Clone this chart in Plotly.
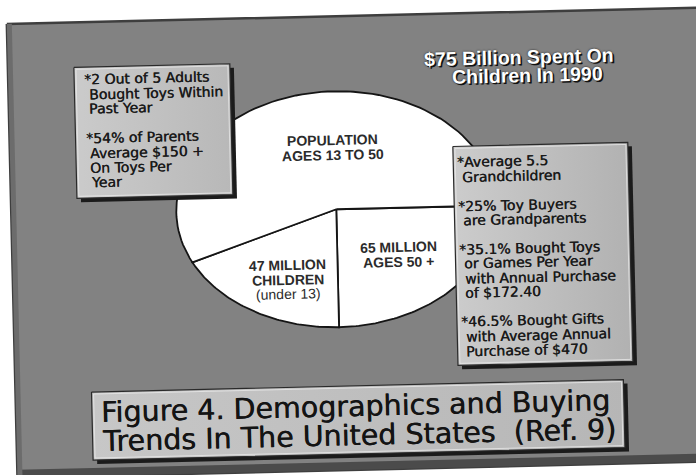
import numpy as np
import plotly.graph_objects as go

# ---------------------------------------------------------------- data
# US population segments (millions) shown as pie slices, clockwise from 3 o'clock
slice_names = ["AGES 50 +", "CHILDREN (under 13)", "AGES 13 TO 50"]
population_millions = [65, 47, 148]

slice_label_lines = [
    ["65 MILLION", "AGES 50 +"],
    ["47 MILLION", "CHILDREN", "(under 13)"],
    ["POPULATION", "AGES 13 TO 50"],
]
slice_label_bold = [
    [True, True],
    [True, True, False],
    [True, True],
]

title_lines = ["$75 Billion Spent On", "Children In 1990"]

adult_notes = [
    ["*2 Out of 5 Adults", "Bought Toys Within", "Past Year"],
    ["*54% of Parents", "Average $150 +", "On Toys Per", "Year"],
]

grandparent_notes = [
    ["*Average 5.5", "Grandchildren"],
    ["*25% Toy Buyers", "are Grandparents"],
    ["*35.1% Bought Toys", "or Games Per Year", "with Annual Purchase", "of $172.40"],
    ["*46.5% Bought Gifts", "with Average Annual", "Purchase of $470"],
]

caption_lines = [
    "Figure 4. Demographics and Buying",
    "Trends In The United States\u00a0 (Ref. 9)",
]

# ---------------------------------------------------------------- layout
W, H = 696, 475
TILT_DEG = 1.35          # the slide sits slightly rotated on the page
PIVOT = (348.0, 240.0)

SLIDE = (12, 16, 712, 470)
LEFT_BOX = (78, 61, 234, 192)
RIGHT_BOX = (455, 149, 630, 368)
CAPTION_BOX = (88, 386, 620, 454)

PIE_CX, PIE_CY, PIE_RX, PIE_RY = 337.0, 209.0, 160.0, 118.0

SLIDE_GRAY = "#828282"
INK = "#1a1a1a"
BOX_FONT = "DejaVu Sans"
PIE_FONT = "Liberation Sans"
INK_WEIGHT = "0.45px 0px 0px #1a1a1a"   # slightly heavier strokes for the box text


def tilt(x, y):
    x = np.asarray(x, dtype=float)
    y = np.asarray(y, dtype=float)
    a = np.radians(TILT_DEG)
    dx, dy = x - PIVOT[0], y - PIVOT[1]
    return (PIVOT[0] + dx * np.cos(a) + dy * np.sin(a),
            PIVOT[1] - dx * np.sin(a) + dy * np.cos(a))


def rect_xy(x0, y0, x1, y1):
    return tilt([x0, x1, x1, x0, x0], [y0, y0, y1, y1, y0])


fig = go.Figure()


def add_poly(xs, ys, fill=None, line_color=None, line_width=0, gradient=None):
    kw = dict(
        x=xs, y=ys, mode="lines", fill="toself" if (fill or gradient) else "none",
        line=dict(color=line_color or "rgba(0,0,0,0)", width=line_width),
        hoverinfo="skip", showlegend=False,
    )
    if fill:
        kw["fillcolor"] = fill
    if gradient:
        kw["fillgradient"] = gradient
    fig.add_trace(go.Scatter(**kw))


# slide background with its darker rim
add_poly(*rect_xy(*SLIDE), fill=SLIDE_GRAY, line_color="#3e3e3e", line_width=2.5)
add_poly(*rect_xy(SLIDE[0], SLIDE[3] - 8, SLIDE[2], SLIDE[3]), fill="#4b4b4b")
add_poly(*rect_xy(SLIDE[0], SLIDE[1], SLIDE[0] + 5, SLIDE[3]), fill="#6c6c6c")

# pie slices: angles come from the population values
total = float(sum(population_millions))
start = 0.0
for v in population_millions:
    sweep = 2 * np.pi * v / total
    phi = np.linspace(start, start + sweep, 90)
    xs = np.concatenate([[PIE_CX], PIE_CX + PIE_RX * np.cos(phi), [PIE_CX]])
    ys = np.concatenate([[PIE_CY], PIE_CY + PIE_RY * np.sin(phi), [PIE_CY]])
    add_poly(*tilt(xs, ys), fill="#ffffff", line_color="#151515", line_width=1.8)
    start += sweep


def add_box(box, c0, c1):
    x0, y0, x1, y1 = box
    add_poly(*rect_xy(x0 + 4, y0 + 4, x1 + 4, y1 + 4), fill="#1b1b1b")
    add_poly(*rect_xy(x0, y0, x1, y1), line_color="#2a2a2a", line_width=1.2,
             gradient=dict(type="horizontal", colorscale=[[0, c0], [1, c1]]))
    add_poly(*rect_xy(x0 + 2, y0 + 2, x1 - 2, y1 - 2),
             line_color="rgba(235,235,235,0.75)", line_width=1)


add_box(LEFT_BOX, "#cbcbcb", "#b8b8b8")
add_box(RIGHT_BOX, "#cccccc", "#b1b1b1")
add_box(CAPTION_BOX, "#c7c7c7", "#b6b6b6")

annotations = []


def put_text(x, y, text, size, family, color, xanchor="left", bold=False, shadow=None):
    tx, ty = tilt([x], [y])
    font = dict(family=family, size=size, color=color,
                weight="bold" if bold else "normal")
    if shadow:
        font["shadow"] = shadow
    annotations.append(dict(
        x=float(tx[0]), y=float(ty[0]), xref="x", yref="y", text=text,
        showarrow=False, xanchor=xanchor, yanchor="middle",
        textangle=-TILT_DEG, font=font,
    ))


def put_notes(groups, x, y, pitch, gap, indent, size):
    for group in groups:
        for i, line in enumerate(group):
            put_text(x + (0 if i == 0 else indent), y, line, size, BOX_FONT, INK,
                     shadow=INK_WEIGHT)
            y += pitch
        y += gap - pitch


put_notes(adult_notes, 86, 72, 15.0, 29.0, 4, 14)
put_notes(grandparent_notes, 457, 164, 14.7, 28.5, 4.5, 14)

# pie labels, one centred block per slice
slice_label_pos = [(398, 248, 15.0), (287, 264, 14.5), (335, 140, 15.0)]
for lines, bolds, (lx, ly, pitch) in zip(slice_label_lines, slice_label_bold, slice_label_pos):
    for i, (line, b) in enumerate(zip(lines, bolds)):
        put_text(lx, ly + i * pitch, line, 14, PIE_FONT, "#2b2b2b", xanchor="center", bold=b)

# white headline with dark edge
title_pos = [(523, 61), (531, 79)]
for line, (tx, ty) in zip(title_lines, title_pos):
    put_text(tx, ty, line, 19.5, PIE_FONT, "#ffffff", xanchor="center", bold=True,
             shadow="1.5px 1.5px 0px #111111, 0px 0px 2px #1a1a1a")

# figure caption
for i, line in enumerate(caption_lines):
    put_text(95, 401 + i * 28.5, line, 28.5, BOX_FONT, "#141414",
             shadow="0.5px 0px 0px #141414")

fig.update_layout(
    width=W, height=H, autosize=False,
    margin=dict(l=0, r=0, t=0, b=0, pad=0),
    paper_bgcolor="#ffffff", plot_bgcolor="#ffffff",
    xaxis=dict(range=[0, W], visible=False, fixedrange=True),
    yaxis=dict(range=[H, 0], visible=False, fixedrange=True),
    annotations=annotations,
    showlegend=False,
)

fig.write_html("out.html", config={"displayModeBar": False})
